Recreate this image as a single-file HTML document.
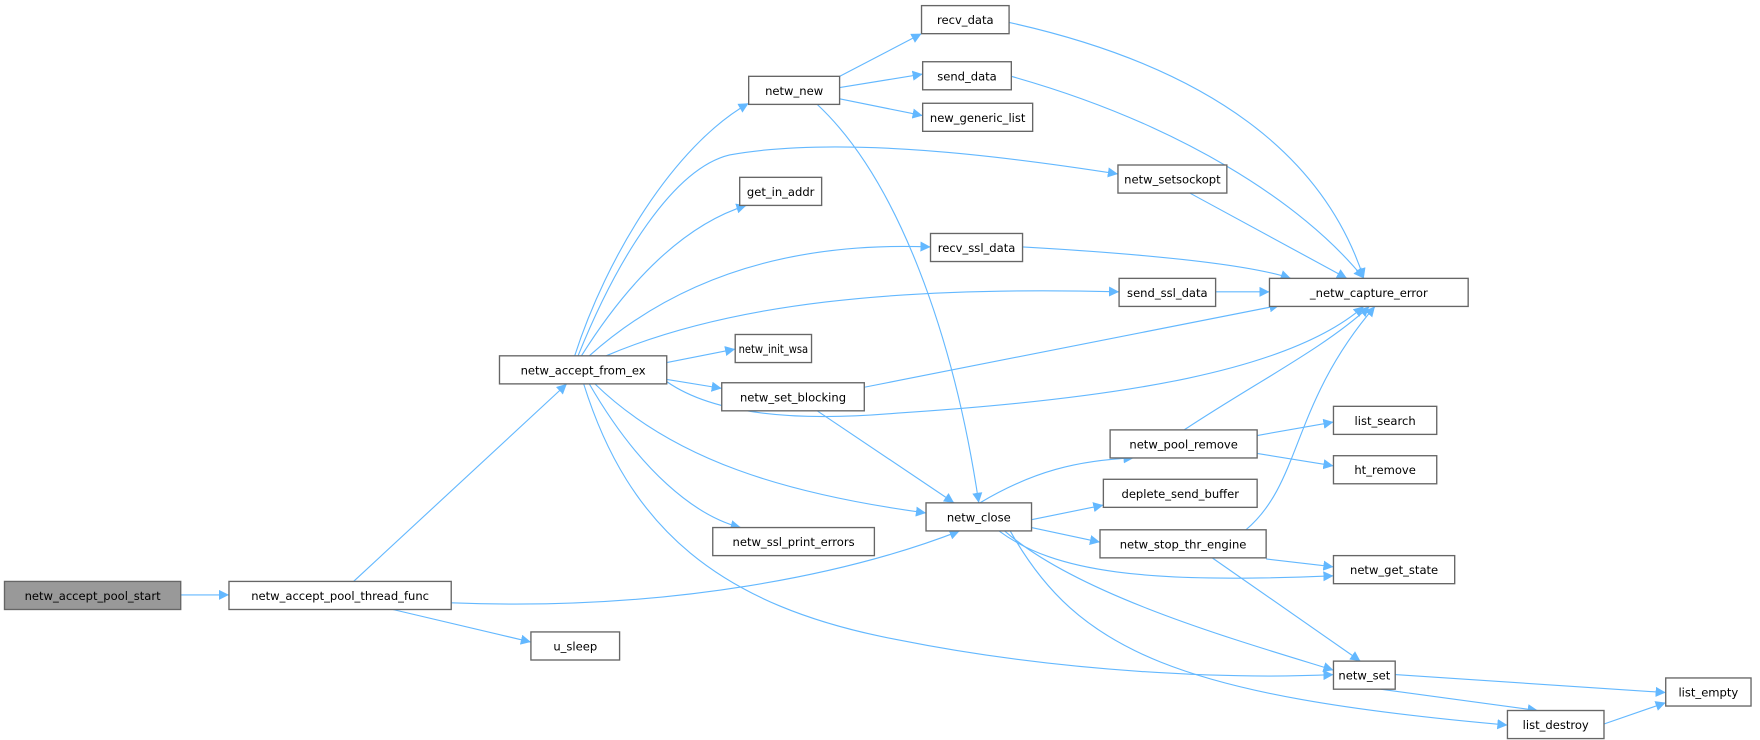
<!DOCTYPE html>
<html><head><meta charset="utf-8"><style>
html,body{margin:0;padding:0;background:#fff;}
svg{display:block;}
text{font-family:"DejaVu Sans","Liberation Sans",sans-serif;font-size:10.3px;fill:#000;}
.e{fill:none;stroke:#63b8ff;stroke-width:1;}
.n{fill:#fff;stroke:#666;stroke-width:1.2;}
</style></head><body>
<svg width="1760" height="740" viewBox="0 0 1760 740" xmlns="http://www.w3.org/2000/svg">
<defs><marker id="a" viewBox="0 0 10 10" refX="10" refY="5" markerWidth="9" markerHeight="9" markerUnits="userSpaceOnUse" orient="auto"><path d="M0,0 L10,5 L0,10 z" fill="#63b8ff"/></marker></defs>
<g transform="scale(1.12245)">
<g marker-end="url(#a)">
<path class="e" d="M161,530 L204,530"/>
<path class="e" d="M315,518 L505,342"/>
<path class="e" d="M402,537 C600,545 760,510 855,473"/>
<path class="e" d="M350,543 L473,572"/>
<path class="e" d="M512,317 C540,230 600,130 667,92"/>
<path class="e" d="M515,317 C550,230 600,150 650,138 C750,120 900,140 996,155"/>
<path class="e" d="M518,317 C560,250 610,200 665,183"/>
<path class="e" d="M525,317 C600,250 700,215 829,220"/>
<path class="e" d="M540,317 C650,270 800,255 997,260"/>
<path class="e" d="M594,323 L655,311"/>
<path class="e" d="M594,338 L643,346"/>
<path class="e" d="M594,340 C640,372 720,375 800,368 C1000,355 1150,330 1215,273"/>
<path class="e" d="M530,342 C600,410 700,440 825,457"/>
<path class="e" d="M525,342 C570,420 620,460 660,470"/>
<path class="e" d="M520,342 C560,470 640,540 800,570 C950,600 1100,605 1188,601"/>
<path class="e" d="M748,68 L821,30"/>
<path class="e" d="M748,78 L822,66"/>
<path class="e" d="M748,88 L822,103"/>
<path class="e" d="M728,93 C800,160 850,300 872,448"/>
<path class="e" d="M899,20 C1080,60 1180,140 1215,248"/>
<path class="e" d="M901,68 C1050,110 1160,180 1215,248"/>
<path class="e" d="M1060,172 L1200,248"/>
<path class="e" d="M911,220 C1050,228 1120,238 1150,248"/>
<path class="e" d="M1083,260 L1131,260"/>
<path class="e" d="M770,345 L1140,272"/>
<path class="e" d="M728,366 L850,448"/>
<path class="e" d="M873,448 C920,420 960,410 1010,408"/>
<path class="e" d="M919,463 L983,450"/>
<path class="e" d="M919,470 L980,483"/>
<path class="e" d="M890,473 C940,510 1020,520 1188,513"/>
<path class="e" d="M895,473 C960,530 1100,570 1188,597"/>
<path class="e" d="M900,473 C960,580 1050,620 1343,646"/>
<path class="e" d="M1055,383 C1120,340 1180,310 1220,273"/>
<path class="e" d="M1120,388 L1188,376"/>
<path class="e" d="M1120,404 L1188,415"/>
<path class="e" d="M1110,472 C1160,430 1150,360 1225,273"/>
<path class="e" d="M1128,498 L1188,505"/>
<path class="e" d="M1080,497 L1212,589"/>
<path class="e" d="M1243,601 L1484,617"/>
<path class="e" d="M1230,614 L1370,633"/>
<path class="e" d="M1429,645 L1484,626"/>
</g>
<g>
<rect x="4" y="518" width="157" height="25" fill="#999" stroke="#666" stroke-width="1.2"/><text x="82.5" y="534.5" text-anchor="middle">netw_accept_pool_start</text>
<rect class="n" x="204" y="518" width="198" height="25"/><text x="303" y="534.5" text-anchor="middle">netw_accept_pool_thread_func</text>
<rect class="n" x="445" y="317" width="149" height="25"/><text x="519.5" y="333.5" text-anchor="middle">netw_accept_from_ex</text>
<rect class="n" x="667" y="68" width="81" height="25"/><text x="707.5" y="84.5" text-anchor="middle">netw_new</text>
<rect class="n" x="821" y="5" width="78" height="25"/><text x="860" y="21.5" text-anchor="middle">recv_data</text>
<rect class="n" x="822" y="55" width="79" height="25"/><text x="861.5" y="71.5" text-anchor="middle">send_data</text>
<rect class="n" x="822" y="92" width="98" height="25"/><text x="871" y="108.5" text-anchor="middle">new_generic_list</text>
<rect class="n" x="996" y="147" width="97" height="25"/><text x="1044.5" y="163.5" text-anchor="middle">netw_setsockopt</text>
<rect class="n" x="659" y="158" width="73" height="25"/><text x="695.5" y="174.5" text-anchor="middle">get_in_addr</text>
<rect class="n" x="829" y="208" width="82" height="25"/><text x="870" y="224.5" text-anchor="middle">recv_ssl_data</text>
<rect class="n" x="997" y="248" width="86" height="25"/><text x="1040" y="264.5" text-anchor="middle">send_ssl_data</text>
<rect class="n" x="1131" y="248" width="177" height="25"/><text x="1219.5" y="264.5" text-anchor="middle">_netw_capture_error</text>
<rect class="n" x="655" y="298" width="68" height="25"/><text x="689" y="314.5" text-anchor="middle" textLength="62" lengthAdjust="spacingAndGlyphs">netw_init_wsa</text>
<rect class="n" x="643" y="341" width="127" height="25"/><text x="706.5" y="357.5" text-anchor="middle">netw_set_blocking</text>
<rect class="n" x="635" y="470" width="144" height="25"/><text x="707" y="486.5" text-anchor="middle">netw_ssl_print_errors</text>
<rect class="n" x="825" y="448" width="94" height="25"/><text x="872" y="464.5" text-anchor="middle">netw_close</text>
<rect class="n" x="989" y="383" width="131" height="25"/><text x="1054.5" y="399.5" text-anchor="middle">netw_pool_remove</text>
<rect class="n" x="983" y="427" width="137" height="25"/><text x="1051.5" y="443.5" text-anchor="middle">deplete_send_buffer</text>
<rect class="n" x="980" y="472" width="148" height="25"/><text x="1054" y="488.5" text-anchor="middle">netw_stop_thr_engine</text>
<rect class="n" x="1188" y="362" width="92" height="25"/><text x="1234" y="378.5" text-anchor="middle">list_search</text>
<rect class="n" x="1188" y="406" width="92" height="25"/><text x="1234" y="422.5" text-anchor="middle">ht_remove</text>
<rect class="n" x="1188" y="495" width="108" height="25"/><text x="1242" y="511.5" text-anchor="middle">netw_get_state</text>
<rect class="n" x="1188" y="589" width="55" height="25"/><text x="1215.5" y="605.5" text-anchor="middle">netw_set</text>
<rect class="n" x="473" y="563" width="79" height="25"/><text x="512.5" y="579.5" text-anchor="middle">u_sleep</text>
<rect class="n" x="1343" y="633" width="86" height="25"/><text x="1386" y="649.5" text-anchor="middle">list_destroy</text>
<rect class="n" x="1484" y="604" width="76" height="25"/><text x="1522" y="620.5" text-anchor="middle">list_empty</text>
</g>
</g>
</svg>
</body></html>
